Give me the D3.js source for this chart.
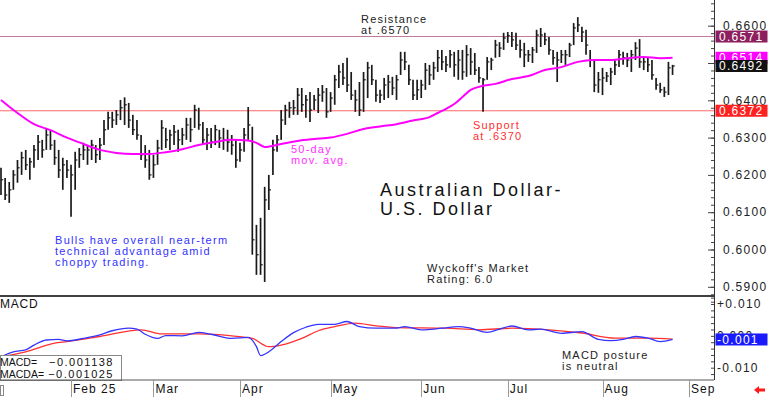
<!DOCTYPE html>
<html>
<head>
<meta charset="utf-8">
<script src="https://cdn.jsdelivr.net/npm/d3@7"></script>
<style>
body { margin: 0; background: #fff; }
svg text { font-family: "Liberation Sans", Arial, sans-serif; }
</style>
</head>
<body>
<svg id="chart" width="768" height="397"></svg>
<script>
// daily bars, index 0 = first trading day shown (early Jan 2025)
var high = [0.6219,0.6192,0.6181,0.6213,0.6240,0.6262,0.6267,0.6246,0.6280,0.6307,
  0.6294,0.6326,0.6321,0.6294,0.6267,0.6246,0.6240,0.6227,0.6262,0.6272,
  0.6286,0.6280,0.6294,0.6280,0.6299,0.6347,0.6369,0.6369,0.6374,0.6401,
  0.6408,0.6393,0.6361,0.6347,0.6307,0.6280,0.6267,0.6254,0.6294,0.6347,
  0.6326,0.6321,0.6334,0.6321,0.6326,0.6353,0.6353,0.6388,0.6380,0.6342,
  0.6326,0.6326,0.6334,0.6321,0.6326,0.6321,0.6307,0.6294,0.6286,0.6326,
  0.6382,0.6329,0.6066,0.6085,0.6168,0.6200,0.6294,0.6307,0.6374,0.6388,
  0.6396,0.6401,0.6433,0.6433,0.6414,0.6422,0.6414,0.6433,0.6441,0.6433,
  0.6422,0.6468,0.6495,0.6500,0.6514,0.6476,0.6428,0.6449,0.6476,0.6503,
  0.6495,0.6455,0.6428,0.6460,0.6468,0.6463,0.6468,0.6530,0.6530,0.6495,
  0.6455,0.6455,0.6455,0.6500,0.6495,0.6503,0.6535,0.6535,0.6519,0.6535,
  0.6530,0.6535,0.6535,0.6548,0.6540,0.6527,0.6489,0.6460,0.6516,0.6514,
  0.6562,0.6556,0.6581,0.6583,0.6583,0.6581,0.6562,0.6554,0.6535,0.6543,
  0.6589,0.6594,0.6581,0.6570,0.6535,0.6530,0.6535,0.6535,0.6554,0.6607,
  0.6623,0.6597,0.6589,0.6535,0.6508,0.6476,0.6487,0.6476,0.6487,0.6508,
  0.6535,0.6530,0.6527,0.6535,0.6556,0.6564,0.6516,0.6516,0.6508,0.6460,
  0.6447,0.6436,0.6503,0.6495];
var low = [0.6146,0.6133,0.6125,0.6160,0.6179,0.6200,0.6213,0.6187,0.6219,0.6240,
  0.6246,0.6267,0.6267,0.6227,0.6192,0.6160,0.6192,0.6088,0.6160,0.6219,
  0.6240,0.6227,0.6240,0.6232,0.6240,0.6280,0.6321,0.6326,0.6334,0.6347,
  0.6334,0.6326,0.6307,0.6294,0.6240,0.6219,0.6187,0.6192,0.6227,0.6267,
  0.6272,0.6267,0.6280,0.6262,0.6280,0.6294,0.6288,0.6326,0.6321,0.6280,
  0.6267,0.6272,0.6280,0.6272,0.6267,0.6262,0.6254,0.6219,0.6235,0.6262,
  0.6294,0.5986,0.5932,0.5932,0.5913,0.6106,0.6200,0.6262,0.6294,0.6334,
  0.6353,0.6361,0.6361,0.6369,0.6353,0.6342,0.6374,0.6366,0.6396,0.6353,
  0.6369,0.6388,0.6433,0.6441,0.6422,0.6401,0.6369,0.6358,0.6369,0.6406,
  0.6441,0.6396,0.6393,0.6401,0.6406,0.6414,0.6401,0.6468,0.6481,0.6441,
  0.6401,0.6401,0.6406,0.6428,0.6441,0.6455,0.6476,0.6481,0.6476,0.6487,
  0.6463,0.6455,0.6455,0.6463,0.6468,0.6468,0.6447,0.6369,0.6455,0.6481,
  0.6514,0.6516,0.6535,0.6554,0.6543,0.6535,0.6514,0.6489,0.6503,0.6500,
  0.6527,0.6543,0.6548,0.6522,0.6495,0.6449,0.6500,0.6495,0.6516,0.6548,
  0.6583,0.6556,0.6522,0.6489,0.6422,0.6420,0.6414,0.6449,0.6441,0.6468,
  0.6489,0.6495,0.6489,0.6476,0.6508,0.6487,0.6481,0.6476,0.6455,0.6428,
  0.6420,0.6409,0.6414,0.6468];
var close = [0.6187,0.6146,0.6160,0.6200,0.6219,0.6246,0.6227,0.6235,0.6267,0.6288,
  0.6267,0.6307,0.6280,0.6246,0.6213,0.6227,0.6213,0.6200,0.6240,0.6254,
  0.6267,0.6267,0.6280,0.6254,0.6280,0.6321,0.6353,0.6347,0.6361,0.6380,
  0.6388,0.6347,0.6321,0.6307,0.6254,0.6240,0.6200,0.6227,0.6272,0.6326,
  0.6294,0.6307,0.6315,0.6294,0.6307,0.6334,0.6321,0.6374,0.6334,0.6294,
  0.6307,0.6288,0.6321,0.6299,0.6294,0.6288,0.6280,0.6240,0.6267,0.6307,
  0.6334,0.6026,0.5986,0.5959,0.6133,0.6160,0.6267,0.6294,0.6347,0.6374,
  0.6380,0.6380,0.6414,0.6388,0.6401,0.6374,0.6401,0.6414,0.6422,0.6369,
  0.6406,0.6455,0.6476,0.6460,0.6441,0.6414,0.6401,0.6374,0.6455,0.6487,
  0.6455,0.6414,0.6414,0.6441,0.6449,0.6433,0.6455,0.6508,0.6503,0.6455,
  0.6414,0.6428,0.6441,0.6481,0.6468,0.6487,0.6514,0.6503,0.6495,0.6522,
  0.6495,0.6508,0.6476,0.6522,0.6503,0.6481,0.6460,0.6455,0.6503,0.6508,
  0.6548,0.6540,0.6567,0.6573,0.6562,0.6548,0.6535,0.6522,0.6522,0.6535,
  0.6575,0.6575,0.6562,0.6535,0.6514,0.6508,0.6522,0.6522,0.6548,0.6594,
  0.6602,0.6583,0.6548,0.6508,0.6441,0.6455,0.6460,0.6465,0.6476,0.6495,
  0.6522,0.6514,0.6508,0.6522,0.6540,0.6503,0.6503,0.6495,0.6468,0.6441,
  0.6428,0.6422,0.6487,0.6492];

// 50-day moving average, read at these bar indexes
var maIdx = [0,4,8,12,16,20,24,28,32,36,40,44,48,52,56,60,62,64,68,72,76,80,84,88,92,96,100,104,106,108,110,112,114,116,120,124,128,132,136,140,144,148,152,156,160,163];
var maVal = [0.6401,0.6366,0.6336,0.6320,0.6300,0.6283,0.6267,0.6259,0.6256,0.6256,
  0.6261,0.6269,0.6280,0.6288,0.6294,0.6292,0.6286,0.6275,0.6283,0.6291,
  0.6296,0.6300,0.6310,0.6323,0.6330,0.6336,0.6346,0.6355,0.6366,0.6377,
  0.6390,0.6409,0.6428,0.6436,0.6444,0.6457,0.6465,0.6481,0.6489,0.6503,
  0.6508,0.6508,0.6513,0.6516,0.6513,0.6514];

// MACD (blue) and MACDA signal (red)
var macdIdx = [0,3,6,8,11,14,16,20,24,27,31,33,35,38,40,44,48,51,56,60,62,63,65,68,71,74,77,81,84,87,91,96,98,102,107,111,114,118,121,124,128,131,136,141,145,148,151,154,157,160,163];
var macdVal = [-0.0065,-0.0050,-0.0044,-0.0029,-0.0013,-0.0011,-0.0016,-0.0008,0.0003,0.0016,
  0.0024,0.0021,0.0005,-0.0008,0.0001,0.0000,0.0011,0.0005,-0.0008,-0.0005,
  -0.0034,-0.0062,-0.0050,-0.0018,0.0010,0.0027,0.0036,0.0036,0.0045,0.0029,
  0.0024,0.0024,0.0029,0.0019,0.0024,0.0029,0.0024,0.0011,0.0021,0.0031,
  0.0019,0.0021,0.0008,0.0013,-0.0011,-0.0015,-0.0011,-0.0002,-0.0007,-0.0018,
  -0.0011];
var sigIdx = [0,6,13,16,24,34,39,48,56,61,65,68,73,77,81,86,91,96,108,116,124,133,141,149,157,163];
var sigVal = [-0.0065,-0.0050,-0.0023,-0.0018,-0.0002,0.0019,0.0006,0.0006,0.0000,-0.0008,
  -0.0034,-0.0029,-0.0008,0.0016,0.0029,0.0040,0.0031,0.0026,0.0024,0.0019,
  0.0024,0.0019,0.0009,-0.0007,-0.0007,-0.0010];
var macdLast = -0.001138, macdaLast = -0.001025;

var monthIdx = [17,37,58,80,102,123,146,167];
var monthLabels = ["Feb 25","Mar","Apr","May","Jun","Jul","Aug","Sep"];
var priceTicks = [0.66,0.65,0.64,0.63,0.62,0.61,0.60,0.59];
var macdTicks = [0.010,0.000,-0.010];
var resistance = 0.6571, support = 0.6372;
var flagVals = [0.6571, 0.6514, 0.6492, 0.6372];

//layout
var W = 714;
var panel = {priceBottom: 296, macdTop: 297, macdBottom: 380};
var flagColors = ["#8e1f5e", "#ff00ff", "#111111", "#ff2020"];

var svg = d3.select("#chart");

var x = d3.scaleLinear().domain([-0.243, 173.06]).range([0, W]);
var y = d3.scaleLinear().domain([0.59, 0.66]).range([286.8, 25.7]);
var ym = d3.scaleLinear().domain([-0.010, 0.010]).range([367.7, 304]);

var defs = svg.append("defs");
defs.append("clipPath").attr("id", "clipPrice")
  .append("rect").attr("x", 0).attr("y", 0).attr("width", W).attr("height", panel.priceBottom - 1);
defs.append("clipPath").attr("id", "clipMacd")
  .append("rect").attr("x", 0).attr("y", panel.macdTop).attr("width", W).attr("height", panel.macdBottom - panel.macdTop);

function multiText(g, lines, x0, y0, step, opts) {
  lines.forEach(function(t, i) {
    g.append("text")
      .attr("x", x0).attr("y", y0 + i * step)
      .attr("dy", "0.35em")
      .attr("font-size", opts.size)
      .attr("letter-spacing", opts.spacing)
      .attr("fill", opts.color)
      .text(t);
  });
}

//price panel
var pg = svg.append("g").attr("clip-path", "url(#clipPrice)");

pg.append("line").attr("x1", 0).attr("x2", W)
  .attr("y1", y(resistance)).attr("y2", y(resistance))
  .attr("stroke", "#c27a9a").attr("stroke-width", 1.2);
pg.append("line").attr("x1", 0).attr("x2", W)
  .attr("y1", y(support)).attr("y2", y(support))
  .attr("stroke", "#ff6a6a").attr("stroke-width", 1.2);

var bars = pg.selectAll("g.bar").data(high).enter().append("g").attr("class", "bar");
bars.append("line")
  .attr("x1", function(d, i) { return x(i); })
  .attr("x2", function(d, i) { return x(i); })
  .attr("y1", function(d) { return y(d); })
  .attr("y2", function(d, i) { return y(low[i]); })
  .attr("stroke", "#1a1a1a").attr("stroke-width", 1.7);
bars.append("line")
  .attr("x1", function(d, i) { return x(i); })
  .attr("x2", function(d, i) { return x(i) + 2.2; })
  .attr("y1", function(d, i) { return y(close[i]); })
  .attr("y2", function(d, i) { return y(close[i]); })
  .attr("stroke", "#1a1a1a").attr("stroke-width", 1.2);

var maLine = d3.line()
  .x(function(d) { return x(d[0]); })
  .y(function(d) { return y(d[1]); })
  .curve(d3.curveMonotoneX);
pg.append("path")
  .attr("d", maLine(d3.zip(maIdx, maVal)))
  .attr("fill", "none").attr("stroke", "#ff00ff").attr("stroke-width", 2);

// annotations
multiText(svg, ["Resistance", "at .6570"], 361, 19, 11, {size: 11, spacing: 1.2, color: "#222"});
multiText(svg, ["Support", "at .6370"], 473, 125, 11, {size: 11, spacing: 1.2, color: "#ff3030"});
multiText(svg, ["50-day", "mov. avg."], 291, 149, 11, {size: 11, spacing: 1.2, color: "#ff30ff"});
multiText(svg, ["Australian Dollar-", "U.S. Dollar"], 380, 190, 19, {size: 18, spacing: 2.5, color: "#111"});
multiText(svg, ["Bulls have overall near-term", "technical advantage amid", "choppy trading."], 55, 240, 11, {size: 11, spacing: 1.3, color: "#3333ff"});
multiText(svg, ["Wyckoff's Market", "Rating: 6.0"], 427, 268, 11, {size: 11, spacing: 1.2, color: "#222"});

//macd panel
var mg = svg.append("g").attr("clip-path", "url(#clipMacd)");
var mLine = d3.line()
  .x(function(d) { return x(d[0]); })
  .y(function(d) { return ym(d[1]); })
  .curve(d3.curveMonotoneX);
mg.append("path").attr("d", mLine(d3.zip(sigIdx, sigVal)))
  .attr("fill", "none").attr("stroke", "#ff3030").attr("stroke-width", 1.3);
mg.append("path").attr("d", mLine(d3.zip(macdIdx, macdVal)))
  .attr("fill", "none").attr("stroke", "#3535ff").attr("stroke-width", 1.3);

svg.append("text").attr("x", 0).attr("y", 304).attr("dy", "0.35em")
  .attr("font-size", 12).attr("letter-spacing", 0.8).attr("fill", "#111").text("MACD");
multiText(svg, ["MACD posture", "is neutral"], 562, 355, 11, {size: 11, spacing: 1.2, color: "#222"});

var fmt6 = d3.format(".6f");
svg.append("rect").attr("x", 0.5).attr("y", 355.5).attr("width", 121).attr("height", 25)
  .attr("fill", "#fff").attr("stroke", "#888");
[["MACD=", macdLast], ["MACDA=", macdaLast]].forEach(function(r, i) {
  svg.append("text").attr("x", 0).attr("y", 362.5 + i * 11.5).attr("dy", "0.35em")
    .attr("font-size", 10.5).attr("fill", "#111").text(r[0]);
  svg.append("text").attr("x", 114).attr("y", 362.5 + i * 11.5).attr("dy", "0.35em")
    .attr("text-anchor", "end")
    .attr("font-size", 11).attr("letter-spacing", 1.5).attr("fill", "#111").text(fmt6(r[1]));
});

// panel borders
svg.append("line").attr("x1", 0).attr("x2", W).attr("y1", panel.priceBottom).attr("y2", panel.priceBottom)
  .attr("stroke", "#000").attr("stroke-width", 1.6);
svg.append("line").attr("x1", 0).attr("x2", W).attr("y1", panel.macdBottom).attr("y2", panel.macdBottom)
  .attr("stroke", "#555").attr("stroke-width", 1);

//right axes
var minorPrice = d3.range(0.586, 0.6661, 0.002);
svg.append("g").attr("transform", "translate(" + W + ",0)")
  .call(d3.axisLeft(y).tickValues(minorPrice).tickSize(3).tickFormat(""))
  .call(function(g) { g.select(".domain").remove(); })
  .selectAll("line").attr("stroke", "#444");
svg.append("g").attr("transform", "translate(" + W + ",0)")
  .call(d3.axisLeft(y).tickValues(priceTicks).tickSize(6).tickFormat(""))
  .call(function(g) { g.select(".domain").remove(); })
  .selectAll("line").attr("stroke", "#444");
var minorMacd = d3.range(-0.012, 0.0121, 0.002);
svg.append("g").attr("transform", "translate(" + W + ",0)")
  .call(d3.axisLeft(ym).tickValues(minorMacd).tickSize(3).tickFormat(""))
  .call(function(g) { g.select(".domain").remove(); })
  .selectAll("line").attr("stroke", "#444");
svg.append("line").attr("x1", W + 0.5).attr("x2", W + 0.5).attr("y1", 0).attr("y2", panel.macdBottom)
  .attr("stroke", "#333").attr("stroke-width", 1);

// tick labels that sit under a value flag are hidden in the original
var fmt4 = d3.format(".4f");
var shownTicks = priceTicks.filter(function(t) {
  return flagVals.every(function(f) { return Math.abs(y(f) - y(t)) > 8; });
});
svg.selectAll("text.ptick").data(shownTicks).enter().append("text")
  .attr("class", "ptick")
  .attr("x", 723).attr("y", function(d) { return y(d); }).attr("dy", "0.35em")
  .attr("font-size", 12).attr("letter-spacing", 1.3).attr("fill", "#222")
  .text(function(d) { return fmt4(d); });

var flags = svg.selectAll("g.flag").data(flagVals).enter().append("g").attr("class", "flag");
flags.append("rect")
  .attr("x", 715.5).attr("y", function(d) { return y(d) - 6; })
  .attr("width", 52).attr("height", 12)
  .attr("fill", function(d, i) { return flagColors[i]; });
flags.append("text")
  .attr("x", 719).attr("y", function(d) { return y(d); }).attr("dy", "0.35em")
  .attr("font-size", 12).attr("letter-spacing", 1.3).attr("fill", "#fff")
  .text(function(d) { return fmt4(d); });

var fmt3 = d3.format(".3f");
svg.selectAll("text.mtick").data(macdTicks).enter().append("text")
  .attr("class", "mtick")
  .attr("x", 717).attr("y", function(d) { return ym(d); }).attr("dy", "0.35em")
  .attr("font-size", 12).attr("letter-spacing", 1.3).attr("fill", "#222")
  .text(function(d) { return (d > 0 ? "+" : (d < 0 ? "-" : "")) + fmt3(Math.abs(d)); });
svg.append("rect").attr("x", 715.5).attr("y", ym(macdLast) - 6).attr("width", 52).attr("height", 12)
  .attr("fill", "#1a1aff");
svg.append("text").attr("x", 717).attr("y", ym(macdLast)).attr("dy", "0.35em")
  .attr("font-size", 12).attr("letter-spacing", 1.3).attr("fill", "#fff")
  .text("-" + fmt3(Math.abs(macdLast)));

//x axis months
var months = svg.selectAll("g.month").data(monthIdx).enter().append("g").attr("class", "month");
months.append("line")
  .attr("x1", function(d) { return Math.round(x(d)) + 0.5; })
  .attr("x2", function(d) { return Math.round(x(d)) + 0.5; })
  .attr("y1", panel.macdBottom).attr("y2", 397)
  .attr("stroke", "#999");
months.append("text")
  .attr("x", function(d) { return x(d) + 2; }).attr("y", 389).attr("dy", "0.35em")
  .attr("font-size", 12).attr("letter-spacing", 1).attr("fill", "#111")
  .text(function(d, i) { return monthLabels[i]; });

svg.append("rect").attr("x", 0.5).attr("y", 385.5).attr("width", 3).attr("height", 10)
  .attr("fill", "none").attr("stroke", "#888");
svg.append("path").attr("d", "M754,390 L759,386 L759,388.5 L765,388.5 L765,391.5 L759,391.5 L759,394 Z")
  .attr("fill", "#ff1a1a");
</script>
</body>
</html>
